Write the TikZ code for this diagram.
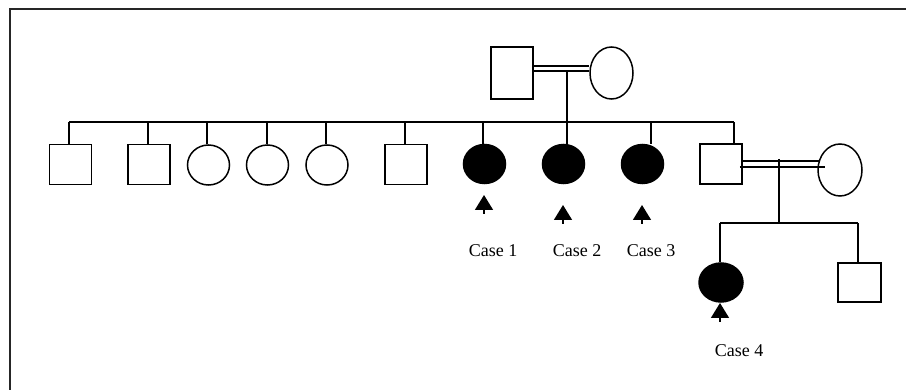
\documentclass[tikz,border=0pt]{standalone}
\usepackage{fontspec}
\setmainfont{Liberation Serif}
\usetikzlibrary{shapes.geometric,arrows.meta,calc}
\begin{document}
\begin{tikzpicture}[x=1pt,y=-1pt,line width=1.5pt,
  male/.style={draw,rectangle,inner sep=0pt,minimum width=42pt,minimum height=40pt},
  female/.style={draw,ellipse,inner sep=0pt,minimum width=42pt,minimum height=40pt},
  affected/.style={female,fill=black},
  proband/.style={-{Triangle[width=18pt,length=15pt]}},
  caselabel/.style={font=\fontsize{18}{20}\selectfont,inner sep=0pt}]
\useasboundingbox (0,0) rectangle (906,390);
% frame
\draw[line width=1.6pt,black!85] (10,390) -- (10,9) -- (906,9);

% first generation
\node[male,minimum height=52pt] (f) at (512,73) {};
\node[female,minimum width=43pt,minimum height=52pt] (m) at (611.5,73) {};
\draw ([yshift=7pt]f.east) -- ([yshift=7pt]f.east -| m.west);
\draw ([yshift=2pt]f.east) -- ([yshift=2pt]f.east -| m.west);
\coordinate (pd) at (567,71);

% second generation
\node[male] (c1) at (70.5,164.5) {};
\node[male] (c2) at (149,164.5) {};
\node[female] (c3) at (208.5,165) {};
\node[female] (c4) at (267.5,165) {};
\node[female] (c5) at (327,165) {};
\node[male] (c6) at (406,164.5) {};
\node[affected,minimum height=39pt] (c7) at (484.5,164) {};
\node[affected,minimum height=39pt] (c8) at (563.5,164) {};
\node[affected,minimum height=39pt] (c9) at (642.5,164) {};
\node[male] (c10) at (721,164) {};

\coordinate (barL) at (69,122);
\coordinate (barR) at (734,122);
\draw (barL) -- (barR);
\draw (pd) -- (pd |- c8.north);
\foreach \n/\dx in {1/-1.5,2/-1,3/-1.5,4/-0.5,5/-1,6/-1,7/-1.5,9/8.5,10/13}
  \draw ([xshift=\dx pt]c\n.north) -- ([xshift=\dx pt]c\n.north |- barL);

% spouse of c10
\node[female,minimum width=44pt,minimum height=52pt] (w) at (840,170) {};
\draw ([yshift=3pt]c10.east) -- ([yshift=3pt,xshift=2pt]c10.east -| w.west);
\draw ([yshift=-3pt,xshift=-3pt]c10.east) -- ([yshift=-3pt,xshift=8pt]c10.east -| w.west);
\coordinate (pd2) at (779,159);

% third generation
\node[affected,minimum width=44pt,minimum height=39pt] (d1) at (721,282.5) {};
\node[male,minimum width=43pt,minimum height=39pt] (d2) at (859.5,282.5) {};
\coordinate (bar2L) at (720,223);
\coordinate (bar2R) at (858,223);
\draw (pd2) -- (pd2 |- bar2L);
\draw (bar2L) -- (bar2R);
\draw ([xshift=-1pt]d1.north) -- (bar2L);
\draw ([xshift=-1.5pt]d2.north) -- (bar2R);

% probands
\coordinate (t1) at (484,195);  \coordinate (b1) at (484,214);
\coordinate (t2) at (563,205);  \coordinate (b2) at (563,224);
\coordinate (t3) at (642,205);  \coordinate (b3) at (642,224);
\coordinate (t4) at (720,303);  \coordinate (b4) at (720,322);
\foreach \k in {1,2,3,4} \draw[proband] (b\k) -- (t\k);

\node[caselabel] (l1) at (493,251) {Case 1};
\node[caselabel] (l2) at (577,251) {Case 2};
\node[caselabel] (l3) at (651,251) {Case 3};
\node[caselabel] (l4) at (739,351) {Case 4};
\end{tikzpicture}
\end{document}
